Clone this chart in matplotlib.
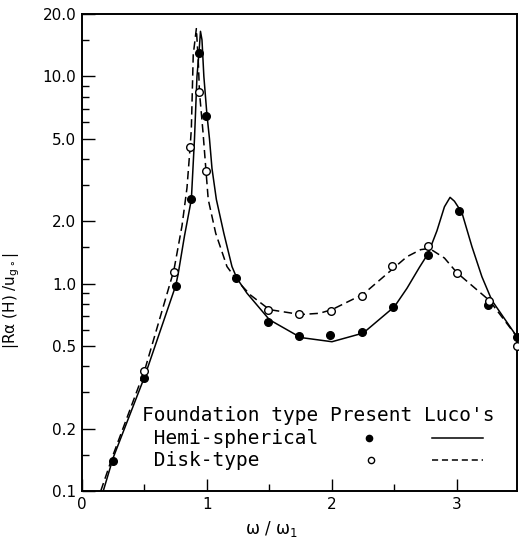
import numpy as np
import matplotlib
matplotlib.use("Agg")
import matplotlib.pyplot as plt
from matplotlib.ticker import FixedLocator, FixedFormatter, NullFormatter

# ============================================================
# DATOS
# ============================================================
# Present (puntos)
hemi_x = [0.25, 0.50, 0.75, 0.875, 0.936, 0.996, 1.235, 1.485, 1.74, 1.985, 2.24, 2.49, 2.77, 3.02, 3.25, 3.48]
hemi_y = [0.14, 0.35, 0.97, 2.55, 13.0, 6.44, 1.07, 0.656, 0.56, 0.563, 0.587, 0.774, 1.37, 2.24, 0.79, 0.555]

disk_x = [0.50, 0.735, 0.865, 0.936, 0.992, 1.49, 1.74, 1.99, 2.24, 2.48, 2.77, 3.0, 3.26, 3.48]
disk_y = [0.38, 1.14, 4.55, 8.4, 3.51, 0.747, 0.711, 0.738, 0.873, 1.22, 1.52, 1.13, 0.828, 0.50]

# Luco's (curvas)
luco_hemi_x = [0.17, 0.25, 0.50, 0.75, 0.77, 0.82, 0.875, 0.90, 0.92, 0.936, 0.948, 0.96, 0.975,
               1.0, 1.02, 1.04, 1.075, 1.135, 1.20, 1.24, 1.32, 1.50, 1.75, 2.0, 2.25, 2.5, 2.6,
               2.7, 2.77, 2.84, 2.9, 2.945, 2.98, 3.04, 3.12, 3.20, 3.28, 3.48]
luco_hemi_y = [0.10, 0.145, 0.355, 0.98, 1.12, 1.7, 2.55, 5.0, 10.0, 13.0, 16.5, 15.0, 10.0,
               6.5, 5.0, 3.6, 2.55, 1.75, 1.21, 1.06, 0.90, 0.67, 0.55, 0.525, 0.578, 0.775, 0.95,
               1.2, 1.4, 1.8, 2.35, 2.61, 2.5, 2.2, 1.51, 1.08, 0.83, 0.555]

luco_disk_x = [0.15, 0.25, 0.50, 0.735, 0.80, 0.84, 0.865, 0.875, 0.89, 0.915, 0.93, 0.94, 0.968,
               0.992, 1.01, 1.07, 1.16, 1.25, 1.35, 1.50, 1.75, 1.90, 2.0, 2.25, 2.48, 2.6, 2.71,
               2.78, 2.9, 3.0, 3.26, 3.48]
luco_disk_y = [0.10, 0.15, 0.38, 1.16, 1.9, 2.9, 4.55, 5.6, 12.7, 17.0, 12.0, 8.4, 5.4,
               3.51, 2.55, 1.75, 1.21, 1.02, 0.88, 0.75, 0.71, 0.72, 0.75, 0.89, 1.17, 1.35, 1.46,
               1.48, 1.33, 1.13, 0.83, 0.555]

y_major = [0.1, 0.2, 0.5, 1.0, 2.0, 5.0, 10.0, 20.0]
y_major_labels = ["0.1", "0.2", "0.5", "1.0", "2.0", "5.0", "10.0", "20.0"]
y_minor = [0.15, 0.3, 0.4, 0.6, 0.7, 0.8, 0.9, 1.5, 3, 4, 6, 7, 8, 9, 15]
x_major = [0, 1, 2, 3]
x_minor = [0.5, 1.5, 2.5]

legend_header = "Foundation type Present Luco's"
legend_rows = [" Hemi-spherical", " Disk-type"]

# ============================================================
# FIGURA
# ============================================================
fig = plt.figure(figsize=(5.19, 5.41), dpi=100)
ax = fig.add_axes([0.158, 0.0924, 0.838, 0.8817])

LW = 1.1
DASH = (0, (5.5, 3))

ax.plot(luco_hemi_x, luco_hemi_y, color="black", lw=LW, solid_joinstyle="round")
ax.plot(luco_disk_x, luco_disk_y, color="black", lw=LW, linestyle=DASH)
ax.plot(hemi_x, hemi_y, "o", color="black", ms=5.5, clip_on=False, zorder=3)
ax.plot(disk_x, disk_y, "o", mfc="white", mec="black", mew=1.0, ms=5.5, clip_on=False, zorder=3)

ax.set_yscale("log")
ax.set_ylim(0.1, 20.0)
ax.set_xlim(0, 3.48)

ax.yaxis.set_major_locator(FixedLocator(y_major))
ax.yaxis.set_major_formatter(FixedFormatter(y_major_labels))
ax.yaxis.set_minor_locator(FixedLocator(y_minor))
ax.yaxis.set_minor_formatter(NullFormatter())
ax.xaxis.set_major_locator(FixedLocator(x_major))
ax.xaxis.set_minor_locator(FixedLocator(x_minor))

ax.tick_params(which="major", direction="in", length=9, width=1.0, labelsize=11, pad=4)
ax.tick_params(which="minor", direction="in", length=5, width=1.0)
ax.tick_params(top=False, right=False)
for s in ax.spines.values():
    s.set_linewidth(1.4)

ax.set_xlabel("ω / ω$_1$", fontsize=12)
ax.xaxis.set_label_coords(0.436, -0.058)
ax.set_ylabel(r"|Rα (H) /u$_{\mathrm{g}\circ}$|", fontsize=11)
ax.yaxis.set_label_coords(-0.138, 0.40)

# Leyenda tipo tabla
mono = "DejaVu Sans Mono"
ax.text(0.137, 0.159, legend_header, transform=ax.transAxes, family=mono,
        fontsize=14, va="center", ha="left")
row_y = [0.111, 0.065]
for txt, yy in zip(legend_rows, row_y):
    ax.text(0.137, yy, txt, transform=ax.transAxes, family=mono,
            fontsize=14, va="center", ha="left")
ax.plot([0.661], [row_y[0]], "o", color="black", ms=4.5, transform=ax.transAxes)
ax.plot([0.665], [row_y[1]], "o", mfc="white", mec="black", mew=1.0, ms=4.5,
        transform=ax.transAxes)
ax.plot([0.804, 0.922], [row_y[0], row_y[0]], color="black", lw=LW, transform=ax.transAxes)
ax.plot([0.804, 0.922], [row_y[1], row_y[1]], color="black", lw=LW, linestyle=(0, (4, 2.5)),
        transform=ax.transAxes)

fig.savefig("out.png", dpi=100)
